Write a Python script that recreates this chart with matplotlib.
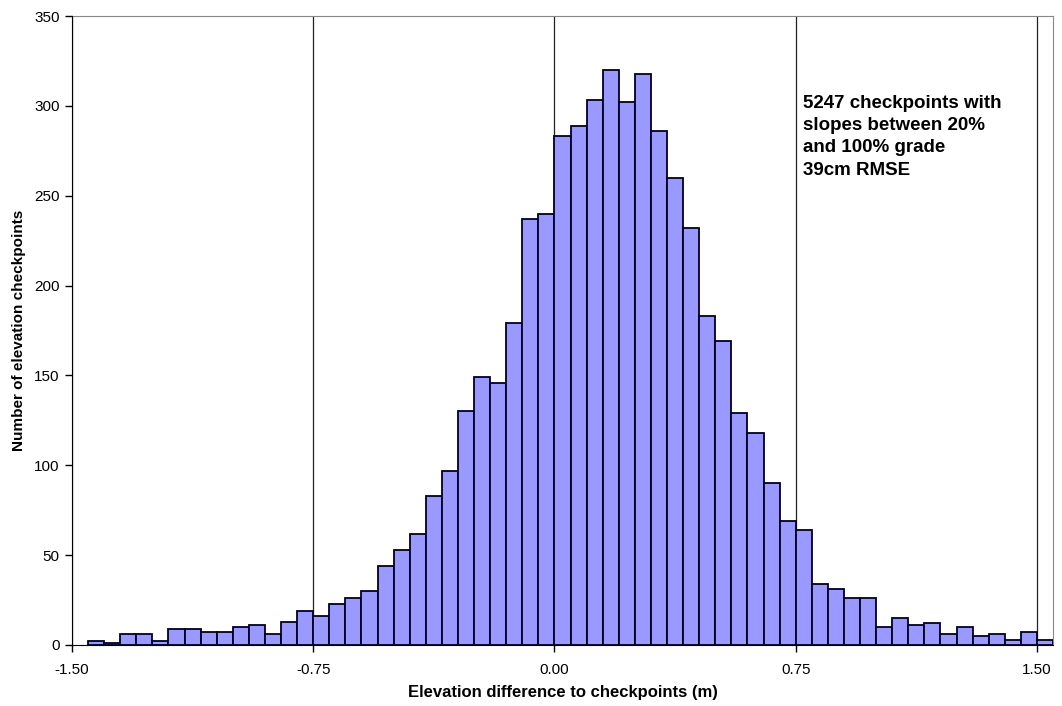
import matplotlib.pyplot as plt
import numpy as np

# histogram of elevation differences, bins 0.05 m wide
bin_start = -1.45
bin_width = 0.05
counts = [2, 1, 6, 6, 2, 9, 9, 7, 7, 10,
          11, 6, 13, 19, 16, 23, 26, 30, 44, 53,
          62, 83, 97, 130, 149, 146, 179, 237, 240, 283,
          289, 303, 320, 302, 318, 286, 260, 232, 183, 169,
          129, 118, 90, 69, 64, 34, 31, 26, 26, 10,
          15, 11, 12, 6, 10, 5, 6, 3, 7, 3]
x_ticks = [-1.50, -0.75, 0.00, 0.75, 1.50]
y_ticks = [0, 50, 100, 150, 200, 250, 300, 350]
note = "5247 checkpoints with\nslopes between 20%\nand 100% grade\n39cm RMSE"

plt.rcParams['font.family'] = ['Liberation Sans', 'DejaVu Sans']

fig = plt.figure(figsize=(10.62, 7.06), dpi=100)
ax = fig.add_axes([72 / 1062, 61 / 706, 981 / 1062, 629 / 706])

lefts = bin_start + bin_width * np.arange(len(counts))
ax.bar(lefts, counts, width=bin_width, align='edge',
       color='#9999ff', edgecolor='#000022', linewidth=1.3, zorder=3)

ax.set_xlim(-1.5, 1.55)
ax.set_ylim(0, 350)
ax.set_xticks(x_ticks)
ax.set_xticklabels(["%.2f" % v for v in x_ticks])
ax.set_yticks(y_ticks)
ax.tick_params(direction='out', length=5, width=1, labelsize=11,
               colors='black', pad=4)
ax.tick_params(axis='x', pad=8)
ax.xaxis.grid(True, color='#222222', linewidth=0.9, zorder=1)

for side in ['top', 'right']:
    ax.spines[side].set_color('#888888')
for side in ['left', 'bottom']:
    ax.spines[side].set_color('black')
    ax.spines[side].set_zorder(4)

ax.set_xlabel("Elevation difference to checkpoints (m)", fontsize=12,
              fontweight='bold', labelpad=6)
ax.set_ylabel("Number of elevation checkpoints", fontsize=11,
              fontweight='bold', labelpad=6)

ax.text(0.773, 306, note, fontsize=13.5, fontweight='bold',
        va='top', ha='left', linespacing=1.4, zorder=5)

plt.savefig("out.png", dpi=100)
